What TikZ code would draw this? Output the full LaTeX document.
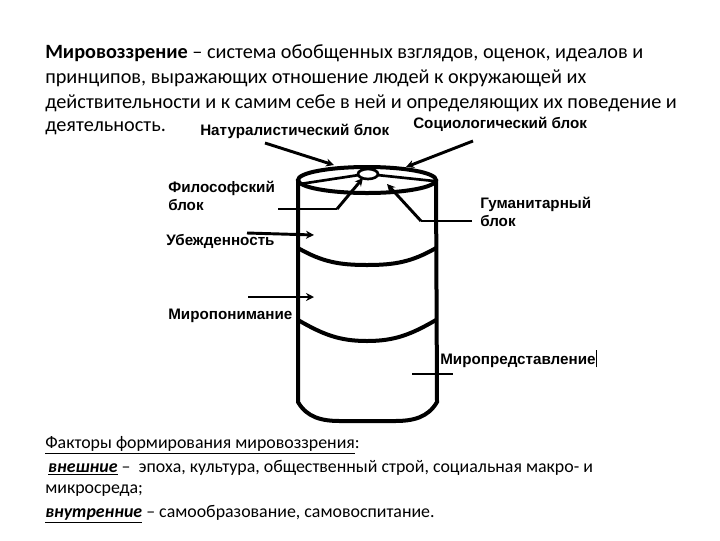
\documentclass[tikz,border=0pt]{standalone}
\usepackage{fontspec}
\setmainfont{Carlito}
\newfontfamily\lab{Liberation Sans}
\usetikzlibrary{arrows.meta}
\begin{document}
\begin{tikzpicture}[x=0.75pt,y=-0.75pt,
  cyl/.style={line width=3pt},
  arr/.style={line width=2.2pt,-{Stealth[length=6pt,width=6pt]}},
  ln/.style={line width=2.2pt},
  lbl/.style={font=\lab\bfseries\fontsize{11.4}{13}\selectfont,anchor=west,inner sep=0pt,align=left},
  txt/.style={font=\fontsize{15.2}{17}\selectfont,anchor=west,inner sep=0pt},
  txtb/.style={font=\fontsize{13.4}{15}\selectfont,anchor=west,inner sep=0pt}]
\useasboundingbox (0,0) rectangle (720,540);
\node[txt] (p1) at (45,53) {\textbf{Мировоззрение} – система обобщенных взглядов, оценок, идеалов и};
\node[txt] (p2) at (45,78) {принципов, выражающих отношение людей к окружающей их};
\node[txt] (p3) at (45,103) {действительности и к самим себе в ней и определяющих их поведение и};
\node[txt] (p4) at (45,128) {деятельность.};
% cylinder
\draw[cyl] (367,180) ellipse (69 and 13);
\draw[cyl] (298,180) -- (298,402) to[out=-60,in=180] (340,421) -- (395,421) to[out=0,in=-120] (437,402) -- (436,180);
\draw[cyl] (298,248) to[out=-30,in=180] (367,265) to[out=0,in=-150] (436,248);
\draw[cyl] (298,320) to[out=-30,in=180] (367,341) to[out=0,in=-150] (436,320);
\draw[line width=2pt] (368,174) ellipse (10 and 5);
\draw[line width=2pt] (367,167) -- (367,169);
\draw[line width=2pt] (359,175) -- (300,184);
\draw[line width=2pt] (377,175) -- (434,181);
% labels
\node[lbl] (nat) at (200,131) {Натуралистический блок};
\node[lbl] (soc) at (413,124) {Социологический блок};
\node[lbl] (fil) at (168,196) {Философский\\блок};
\node[lbl] (gum) at (480,212) {Гуманитарный\\блок};
\node[lbl] (ube) at (166,241) {Убежденность};
\node[lbl] (mpo) at (168,316) {Миропонимание};
\node[lbl] (mpr) at (440,359) {Миропредставление\rule[-2pt]{0.6pt}{13pt}};
\coordinate (a1) at (265,143); \coordinate (a1e) at (334,165);
\draw[arr] (a1) -- (a1e);
\coordinate (a2) at (473,141); \coordinate (a2e) at (406,167);
\draw[arr] (a2) -- (a2e);
\coordinate (f1) at (278,209); \coordinate (f2) at (337,209); \coordinate (f3) at (363,178);
\draw[ln] (f1) -- (f2); \draw[arr] (f2) -- (f3);
\coordinate (g1) at (472,221); \coordinate (g2) at (421,221); \coordinate (g3) at (387,184);
\draw[ln] (g1) -- (g2); \draw[arr] (g2) -- (g3);
\coordinate (u1) at (247,233); \coordinate (u2) at (314,235);
\draw[arr] (u1) -- (u2);
\coordinate (m1) at (248,297); \coordinate (m2) at (314,297);
\draw[arr] (m1) -- (m2);
\coordinate (r1) at (412,374); \coordinate (r2) at (453,374);
\draw[ln] (r1) -- (r2);
% bottom
\node[txtb] (b1) at (45,445) {\underline{Факторы формирования мировоззрения}:};
\node[txtb] (b2) at (45,468) {\,\underline{\textbf{\textit{внешние}}} –\ \ эпоха, культура, общественный строй, социальная макро- и};
\node[txtb] (b3) at (45,491) {микросреда;};
\node[txtb] (b4) at (45,514) {\underline{\textbf{\textit{внутренние}}} – самообразование, самовоспитание.};
\end{tikzpicture}
\end{document}
